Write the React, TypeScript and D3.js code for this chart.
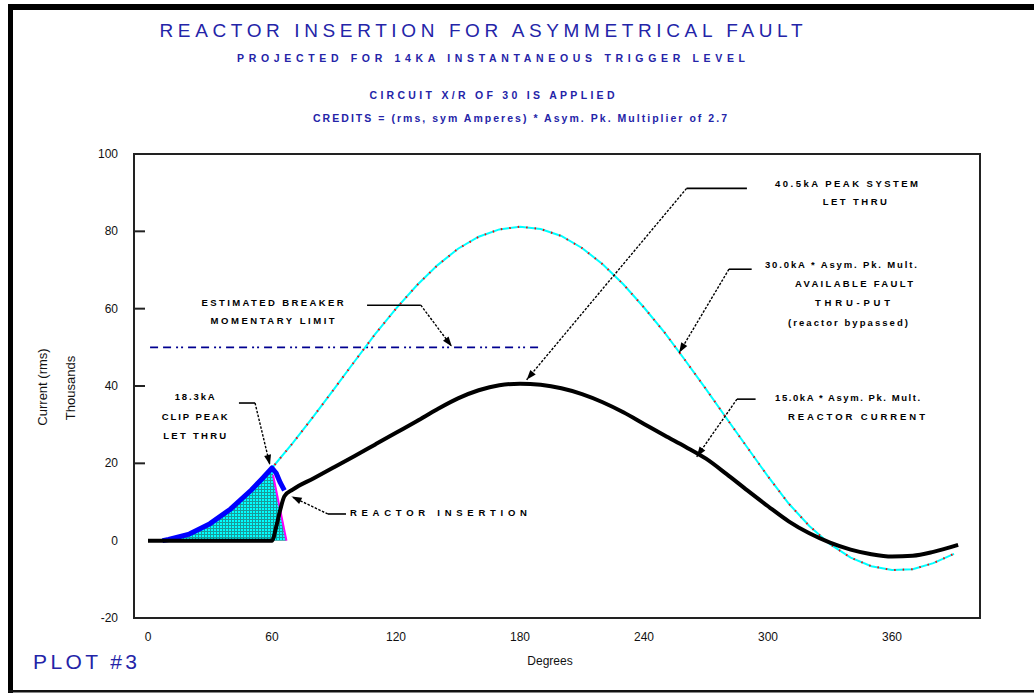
import React from 'react';
import * as d3 from 'd3';

const W = 1034;
const H = 694;

// curve data (degrees vs kA)
const degrees = [0, 10, 20, 30, 40, 50, 60, 70, 80, 90, 100, 110, 120, 130, 140, 150, 160, 170, 180, 190,
  200, 210, 220, 230, 240, 250, 260, 270, 280, 290, 300, 310, 320, 330, 340, 350, 360, 370, 380, 390];
const availableFault = [0, 0.3, 1.7, 4.4, 8.2, 13.1, 18.8, 25.2, 32.1, 39.2, 46.4, 53.5, 60.0, 66.0, 71.2, 75.5, 78.6, 80.5, 81.2, 80.6,
  78.8, 75.7, 71.5, 66.3, 60.3, 53.8, 46.6, 39.2, 31.6, 24.1, 16.6, 9.6, 3.8, -0.9, -4.4, -6.6, -7.6, -7.4, -5.8, -3.4];

const reactorDeg = [0, 60, 62, 64, 66, 70, 80, 90, 100, 110, 120, 130, 140, 150, 160, 170, 180, 190, 200, 210,
  220, 230, 240, 250, 260, 270, 280, 290, 300, 310, 320, 330, 340, 350, 360, 370, 380, 392];
const reactorCurrent = [0, 0, 3.5, 8, 11.5, 13.2, 16.1, 19.0, 21.9, 24.9, 27.9, 30.9, 34.0, 36.8, 38.9, 40.2, 40.6, 40.3, 39.4, 37.9,
  35.8, 33.2, 30.2, 27.2, 24.3, 21.2, 17.2, 13.0, 8.9, 5.0, 1.9, -0.5, -2.3, -3.5, -4.1, -3.9, -2.9, -1.1];

const clipDeg = [7, 10, 20, 30, 40, 50, 55, 60, 62, 64, 66];
const clipCurrent = [0, 0.3, 1.7, 4.4, 8.2, 13.1, 15.9, 18.8, 17.5, 15.0, 13.0];

const cutoffDeg = [60.5, 67];
const cutoffCurrent = [17, 0];

const breakerLimit = 50;
const breakerSpan = [1, 191];

const xTicks = [0, 60, 120, 180, 240, 300, 360];
const yTicks = [-20, 0, 20, 40, 60, 80, 100];
const yTickMarks = [20, 40, 60, 80];

const titleLines = [
  'REACTOR INSERTION FOR ASYMMETRICAL FAULT',
  'PROJECTED FOR 14KA INSTANTANEOUS TRIGGER LEVEL',
  'CIRCUIT X/R OF 30 IS APPLIED',
  'CREDITS = (rms, sym Amperes) * Asym. Pk. Multiplier of 2.7',
];

type Line = { text: string; deg: number; val: number; w: number };
type Note = { lines: Line[]; anchor: 'middle' | 'start'; leader: [number, number][] };

const notes: Note[] = [
  {
    anchor: 'middle',
    lines: [
      { text: 'ESTIMATED BREAKER', deg: 60.3, val: 61.7, w: 142 },
      { text: 'MOMENTARY LIMIT', deg: 60.3, val: 57.0, w: 124 },
    ],
    leader: [[106, 60.9], [132, 60.9], [147, 50.2]],
  },
  {
    anchor: 'middle',
    lines: [
      { text: '18.3kA', deg: 22.6, val: 37.2, w: 40 },
      { text: 'CLIP PEAK', deg: 22.6, val: 32.2, w: 66 },
      { text: 'LET THRU', deg: 22.6, val: 27.3, w: 63 },
    ],
    leader: [[44, 35.6], [51.8, 35.6], [59, 19.6]],
  },
  {
    anchor: 'start',
    lines: [{ text: 'REACTOR INSERTION', deg: 97.7, val: 7.2, w: 177 }],
    leader: [[95.8, 6.9], [87, 6.9], [69.5, 11.4]],
  },
  {
    anchor: 'middle',
    lines: [
      { text: '40.5kA PEAK SYSTEM', deg: 338, val: 92.4, w: 143 },
      { text: 'LET THRU', deg: 342, val: 87.7, w: 64 },
    ],
    leader: [[289.8, 91.1], [260.6, 91.1], [183.2, 41.6]],
  },
  {
    anchor: 'middle',
    lines: [
      { text: '30.0kA * Asym. Pk. Mult.', deg: 335.3, val: 71.3, w: 152 },
      { text: 'AVAILABLE FAULT', deg: 341.6, val: 66.4, w: 118 },
      { text: 'THRU-PUT', deg: 340.9, val: 61.5, w: 75 },
      { text: '(reactor bypassed)', deg: 338.7, val: 56.5, w: 120 },
    ],
    leader: [[292.1, 70.2], [281.1, 70.2], [257, 48.6]],
  },
  {
    anchor: 'middle',
    lines: [
      { text: '15.0kA * Asym. Pk. Mult.', deg: 338.5, val: 37.1, w: 145 },
      { text: 'REACTOR CURRENT', deg: 342.8, val: 32.2, w: 137 },
    ],
    leader: [[294, 36.6], [285, 36.6], [265.5, 21.7]],
  },
];

const plot = { left: 134, right: 980, top: 154, bottom: 618 };
const font = 'Arial, "Liberation Sans", sans-serif';
const blue = '#2424a8';

export default function App() {
  const x = d3.scaleLinear().domain([0, 360]).range([148, 892]);
  const y = d3.scaleLinear().domain([-20, 100]).range([plot.bottom, plot.top]);

  const line = d3.line<[number, number]>().x(d => x(d[0])).y(d => y(d[1]));

  const faultPts = degrees.map((d, i) => [d, availableFault[i]] as [number, number]);
  const reactorPts = reactorDeg.map((d, i) => [d, reactorCurrent[i]] as [number, number]);
  const clipPts = clipDeg.map((d, i) => [d, clipCurrent[i]] as [number, number]);
  const cutoffPts = cutoffDeg.map((d, i) => [d, cutoffCurrent[i]] as [number, number]);

  const fillPts: [number, number][] = [
    ...clipPts.filter(p => p[0] <= 60),
    cutoffPts[1],
    [clipDeg[0], 0],
  ];

  const arrowHead = (from: [number, number], to: [number, number]) => {
    const x0 = x(from[0]), y0 = y(from[1]), x1 = x(to[0]), y1 = y(to[1]);
    const a = Math.atan2(y1 - y0, x1 - x0);
    const len = 10, hw = 3.5;
    const bx = x1 - len * Math.cos(a), by = y1 - len * Math.sin(a);
    const px = -Math.sin(a) * hw, py = Math.cos(a) * hw;
    return `M${x1},${y1}L${bx + px},${by + py}L${bx - px},${by - py}Z`;
  };

  return (
    <div style={{ position: 'absolute', left: 0, top: 0, background: '#fff' }}>
      <svg width={W} height={H} style={{ display: 'block' }}>
        <defs>
          <pattern id="grid" width="3" height="3" patternUnits="userSpaceOnUse">
            <rect width="3" height="3" fill="#00ffff" />
            <path d="M0,0.5H3M0.5,0V3" stroke="#1a9a9a" strokeWidth="1" />
          </pattern>
        </defs>
        <rect width={W} height={H} fill="#fff" />

        {/* outer frame */}
        <rect x={8} y={4} width={W - 8} height={6} fill="#000" />
        <rect x={8} y={4} width={5} height={689} fill="#000" />
        <rect x={8} y={690} width={W - 8} height={2.5} fill="#111" />

        {/* titles */}
        <g fill={blue} fontFamily={font} textAnchor="middle" dominantBaseline="central">
          <text x={481} y={30} fontSize={19} textLength={643} lengthAdjust="spacing">{titleLines[0]}</text>
          <text x={491} y={58} fontSize={10.5} fontWeight="bold" textLength={508} lengthAdjust="spacing">{titleLines[1]}</text>
          <text x={492} y={95} fontSize={10.5} fontWeight="bold" textLength={245} lengthAdjust="spacing">{titleLines[2]}</text>
          <text x={520} y={118} fontSize={10.5} fontWeight="bold" textLength={414} lengthAdjust="spacing">{titleLines[3]}</text>
        </g>

        {/* plot frame */}
        <rect x={plot.left} y={plot.top} width={plot.right - plot.left} height={plot.bottom - plot.top}
          fill="none" stroke="#222" strokeWidth={2} />
        {yTickMarks.map(t => (
          <line key={t} x1={plot.left} x2={plot.left + 11} y1={y(t)} y2={y(t)} stroke="#222" strokeWidth={2} />
        ))}

        {/* tick labels */}
        <g fontFamily={font} fontSize={12} fill="#111">
          {yTicks.map(t => (
            <text key={t} x={118} y={y(t)} textAnchor="end" dominantBaseline="central">{t}</text>
          ))}
          {xTicks.map(t => (
            <text key={t} x={x(t)} y={637} textAnchor="middle" dominantBaseline="central">{t}</text>
          ))}
          <text x={550} y={661} textAnchor="middle" dominantBaseline="central">Degrees</text>
          <text transform="translate(42,387) rotate(-90)" textAnchor="middle" dominantBaseline="central" fontSize={13}>Current (rms)</text>
          <text transform="translate(70,388) rotate(-90)" textAnchor="middle" dominantBaseline="central" fontSize={13}>Thousands</text>
        </g>

        {/* breaker limit */}
        <line x1={x(breakerSpan[0])} x2={x(breakerSpan[1])} y1={y(breakerLimit)} y2={y(breakerLimit)}
          stroke="#000090" strokeWidth={1.8} strokeDasharray="8 5 8 5 2 3 2 5" />

        {/* clipped region */}
        <path d={line(fillPts) || ''} fill="url(#grid)" />
        <path d={line([[0, 0], [60, 0]]) || ''} stroke="#000" strokeWidth={2} fill="none" />

        {/* available fault current */}
        <path d={line(faultPts) || ''} fill="none" stroke="#00ffff" strokeWidth={2} />
        <path d={line(faultPts) || ''} fill="none" stroke="#ff0000" strokeWidth={2} strokeDasharray="1.5 7" />

        {/* cutoff */}
        <path d={line(cutoffPts) || ''} fill="none" stroke="#ff00ff" strokeWidth={2} />

        {/* clip current */}
        <path d={line(clipPts) || ''} fill="none" stroke="#0000ff" strokeWidth={5} strokeLinejoin="round" />

        {/* reactor current */}
        <path d={line.curve(d3.curveMonotoneX)(reactorPts) || ''} fill="none" stroke="#000" strokeWidth={4} strokeLinejoin="round" />

        {/* annotations */}
        {notes.map((n, i) => (
          <g key={i}>
            <path d={d3.line<[number, number]>().x(d => x(d[0])).y(d => y(d[1]))(n.leader.slice(0, 2)) || ''} stroke="#000" strokeWidth={1.6} fill="none" />
            <path d={d3.line<[number, number]>().x(d => x(d[0])).y(d => y(d[1]))(n.leader.slice(1)) || ''} stroke="#000" strokeWidth={1.4} strokeDasharray="2.5 1.5" fill="none" />
            <path d={arrowHead(n.leader[n.leader.length - 2], n.leader[n.leader.length - 1])} fill="#000" />
            {n.lines.map((l, j) => (
              <text key={j} x={x(l.deg)} y={y(l.val)} textAnchor={n.anchor}
                dominantBaseline="central" fontFamily={font} fontSize={9.5} fontWeight="bold" fill="#000"
                textLength={l.w} lengthAdjust="spacing">{l.text}</text>
            ))}
          </g>
        ))}

        {/* plot label */}
        <text x={33} y={661} fill={blue} fontFamily={font} fontSize={21} dominantBaseline="central"
          textLength={104} lengthAdjust="spacing">PLOT #3</text>
      </svg>
    </div>
  );
}
